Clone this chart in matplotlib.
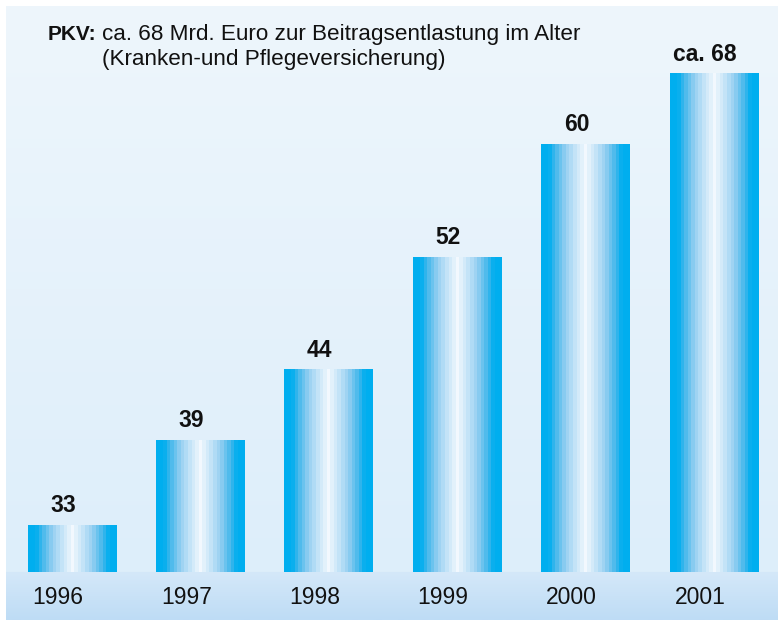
import matplotlib
matplotlib.use("Agg")
import matplotlib.pyplot as plt
import numpy as np
from matplotlib.colors import LinearSegmentedColormap

plt.rcParams['font.family'] = ['Liberation Sans', 'DejaVu Sans']

# Daten
years = ['1996', '1997', '1998', '1999', '2000', '2001']
values = [33, 39, 44, 52, 60, 68]
value_labels = ['33', '39', '44', '52', '60', 'ca. 68']

title_bold = 'PKV:'
title_line1 = 'ca. 68 Mrd. Euro zur Beitragsentlastung im Alter'
title_line2 = '(Kranken-und Pflegeversicherung)'

# Darstellung
W, H = 778, 620
base = 29.67        # Wert an der Grundlinie (Achse beginnt nicht bei 0)
y_top = 69.8
bar_cap = 65        # letzter Balken wird gekuerzt dargestellt
bar_w = 0.693

fig = plt.figure(figsize=(W / 100, H / 100), dpi=100)
fig.patch.set_facecolor('white')

# Hintergrund mit Verlauf
bg = fig.add_axes([6 / W, 0, (W - 6) / W, (H - 6) / H])
bg.set_axis_off()
top_part = np.linspace([238, 246, 252], [221, 238, 250], 566)
strip = np.linspace([212, 232, 249], [190, 220, 245], 48)
bg_img = np.vstack([top_part, strip])[:, None, :] / 255.0
bg.imshow(bg_img, aspect='auto', extent=(0, 1, 0, 1), interpolation='bilinear')
bg.set_xlim(0, 1)
bg.set_ylim(0, 1)

# Achse fuer die Balken
ax = fig.add_axes([6 / W, 48 / H, (W - 6) / W, 566 / H])
ax.set_axis_off()
ax.patch.set_alpha(0)

cmap = LinearSegmentedColormap.from_list('zyl', [
    (0.0, '#00AEEF'), (0.14, '#00AEEF'), (0.3, '#45B8EC'),
    (0.55, '#98D0F2'), (0.8, '#CDE8F9'), (1.0, '#F2F8FE')])
u = np.linspace(0, 1, 25)
profile = (1 - np.abs(2 * u - 1))[None, :]

x = np.arange(len(years))
for xi, v, lab, yr in zip(x, values, value_labels, years):
    top = min(v, bar_cap)
    ax.imshow(profile, cmap=cmap, vmin=0, vmax=1, aspect='auto',
              interpolation='nearest',
              extent=(xi - bar_w / 2, xi + bar_w / 2, base, top))
    ax.annotate(lab, (xi, top), xytext=(-9, 8), textcoords='offset pixels',
                ha='center', va='bottom', fontsize=16.5, fontweight='bold',
                color='#111111')
    ax.annotate(yr, (xi, base), xytext=(-14, -25), textcoords='offset pixels',
                ha='center', va='center', fontsize=16.5, color='#111111')

ax.set_xlim(-0.514, 5.498)
ax.set_ylim(base, y_top)

# Titel
fig.text(48 / W, 1 - 40 / H, title_bold, fontsize=15, fontweight='bold',
         va='baseline', color='#111111')
fig.text(102 / W, 1 - 40 / H, title_line1, fontsize=16.2, va='baseline',
         color='#111111')
fig.text(102 / W, 1 - 65 / H, title_line2, fontsize=16.2, va='baseline',
         color='#111111')

fig.savefig('out.png', dpi=100)
